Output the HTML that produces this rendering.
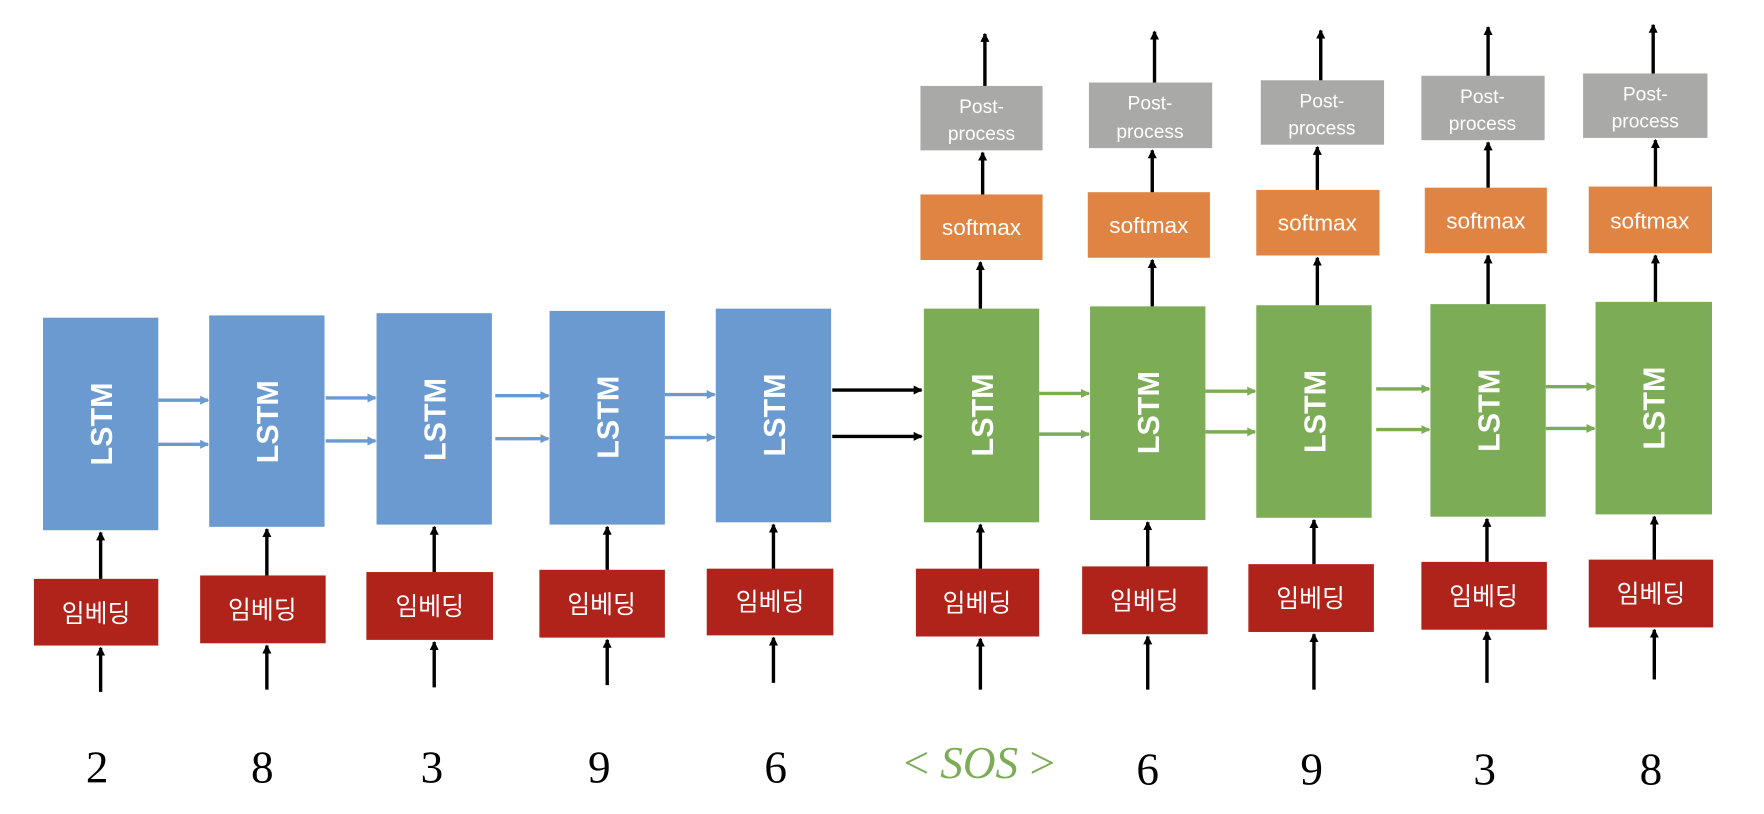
<!DOCTYPE html>
<html><head><meta charset="utf-8"><style>html,body{margin:0;padding:0;background:#fff}svg{display:block}</style></head><body>
<svg width="1764" height="814" viewBox="0 0 1560 720" preserveAspectRatio="none" xmlns="http://www.w3.org/2000/svg">
<defs>
<marker id="k" markerWidth="8" markerHeight="8" refX="7" refY="4" orient="auto" markerUnits="userSpaceOnUse" viewBox="0 0 8 8"><path d="M0,0 L8,4 L0,8 z" fill="#000"/></marker>
<marker id="b" markerWidth="8" markerHeight="8" refX="7" refY="4" orient="auto" markerUnits="userSpaceOnUse" viewBox="0 0 8 8"><path d="M0,0 L8,4 L0,8 z" fill="#6a9ad0"/></marker>
<marker id="g" markerWidth="8" markerHeight="8" refX="7" refY="4" orient="auto" markerUnits="userSpaceOnUse" viewBox="0 0 8 8"><path d="M0,0 L8,4 L0,8 z" fill="#7dac57"/></marker>
</defs>
<g font-family="Liberation Sans, sans-serif">
<!-- blue LSTMs -->
<g fill="#6a9ad0">
<rect x="38" y="281" width="102" height="188"/>
<rect x="185" y="279" width="102" height="187"/>
<rect x="333" y="277" width="102" height="187"/>
<rect x="486" y="275" width="102" height="189"/>
<rect x="633" y="273" width="102" height="189"/>
</g>
<g fill="#7dac57">
<rect x="817" y="273" width="102" height="189"/>
<rect x="964" y="271" width="102" height="189"/>
<rect x="1111" y="270" width="102" height="188"/>
<rect x="1265" y="269" width="102" height="188"/>
<rect x="1411" y="267" width="103" height="188"/>
</g>
<g fill="#fff" font-weight="bold" font-size="27" text-anchor="middle">
<text transform="translate(99,375) rotate(-90)">LSTM</text>
<text transform="translate(246,373) rotate(-90)">LSTM</text>
<text transform="translate(394,371) rotate(-90)">LSTM</text>
<text transform="translate(547,369) rotate(-90)">LSTM</text>
<text transform="translate(694,367) rotate(-90)">LSTM</text>
<text transform="translate(878,367) rotate(-90)">LSTM</text>
<text transform="translate(1025,365) rotate(-90)">LSTM</text>
<text transform="translate(1172,364) rotate(-90)">LSTM</text>
<text transform="translate(1326,363) rotate(-90)">LSTM</text>
<text transform="translate(1472,361) rotate(-90)">LSTM</text>
</g>
<!-- embedding -->
<g fill="#b0231a">
<rect x="30" y="512" width="110" height="59"/>
<rect x="177" y="509" width="111" height="60"/>
<rect x="324" y="506" width="112" height="60"/>
<rect x="477" y="504" width="111" height="60"/>
<rect x="625" y="503" width="112" height="59"/>
<rect x="810" y="503" width="109" height="60"/>
<rect x="957" y="501" width="111" height="60"/>
<rect x="1104" y="499" width="111" height="60"/>
<rect x="1257" y="497" width="111" height="60"/>
<rect x="1405" y="495" width="110" height="60"/>
</g>
<g fill="#fff" font-family="Noto Sans CJK KR, NanumGothic, sans-serif" font-size="22" text-anchor="middle">
<text x="85" y="550">임베딩</text>
<text x="232" y="547">임베딩</text>
<text x="380" y="544">임베딩</text>
<text x="532" y="542">임베딩</text>
<text x="681" y="540">임베딩</text>
<text x="864" y="541">임베딩</text>
<text x="1012" y="539">임베딩</text>
<text x="1159" y="537">임베딩</text>
<text x="1312" y="535">임베딩</text>
<text x="1460" y="533">임베딩</text>
</g>
<!-- softmax -->
<g fill="#e08444">
<rect x="814" y="172" width="108" height="58"/>
<rect x="962" y="170" width="108" height="58"/>
<rect x="1111" y="168" width="109" height="58"/>
<rect x="1260" y="166" width="108" height="58"/>
<rect x="1405" y="165" width="109" height="59"/>
</g>
<g fill="#fff" font-size="20" text-anchor="middle">
<text x="868" y="208">softmax</text>
<text x="1016" y="206">softmax</text>
<text x="1165" y="204">softmax</text>
<text x="1314" y="202">softmax</text>
<text x="1459" y="202">softmax</text>
</g>
<!-- post-process -->
<g fill="#a9a9a7">
<rect x="814" y="76" width="108" height="57"/>
<rect x="963" y="73" width="109" height="58"/>
<rect x="1115" y="71" width="109" height="57"/>
<rect x="1257" y="67" width="109" height="57"/>
<rect x="1400" y="65" width="110" height="57"/>
</g>
<g fill="#fff" font-size="17" text-anchor="middle">
<text x="868" y="100">Post-</text><text x="868" y="124">process</text>
<text x="1017" y="97">Post-</text><text x="1017" y="122">process</text>
<text x="1169" y="95">Post-</text><text x="1169" y="119">process</text>
<text x="1311" y="91">Post-</text><text x="1311" y="115">process</text>
<text x="1455" y="89">Post-</text><text x="1455" y="113">process</text>
</g>
<!-- vertical arrows -->
<g stroke="#000" stroke-width="3" marker-end="url(#k)">
<line x1="89" y1="612" x2="89" y2="573"/><line x1="89" y1="512" x2="89" y2="471"/>
<line x1="236" y1="610" x2="236" y2="571"/><line x1="236" y1="509" x2="236" y2="468"/>
<line x1="384" y1="608" x2="384" y2="568"/><line x1="384" y1="506" x2="384" y2="466"/>
<line x1="537" y1="606" x2="537" y2="566"/><line x1="537" y1="504" x2="537" y2="466"/>
<line x1="684" y1="604" x2="684" y2="564"/><line x1="684" y1="503" x2="684" y2="464"/>
<line x1="867" y1="610" x2="867" y2="565"/><line x1="867" y1="503" x2="867" y2="464"/>
<line x1="867" y1="273" x2="867" y2="232"/><line x1="869" y1="172" x2="869" y2="135"/><line x1="871" y1="76" x2="871" y2="30"/>
<line x1="1015" y1="610" x2="1015" y2="563"/><line x1="1015" y1="501" x2="1015" y2="462"/>
<line x1="1019" y1="271" x2="1019" y2="230"/><line x1="1019" y1="170" x2="1019" y2="133"/><line x1="1021" y1="73" x2="1021" y2="28"/>
<line x1="1162" y1="610" x2="1162" y2="561"/><line x1="1162" y1="499" x2="1162" y2="460"/>
<line x1="1165" y1="270" x2="1165" y2="228"/><line x1="1165" y1="168" x2="1165" y2="130"/><line x1="1168" y1="71" x2="1168" y2="27"/>
<line x1="1315" y1="604" x2="1315" y2="559"/><line x1="1315" y1="497" x2="1315" y2="459"/>
<line x1="1316" y1="269" x2="1316" y2="226"/><line x1="1316" y1="166" x2="1316" y2="126"/><line x1="1316" y1="67" x2="1316" y2="24"/>
<line x1="1463" y1="601" x2="1463" y2="557"/><line x1="1463" y1="495" x2="1463" y2="457"/>
<line x1="1464" y1="267" x2="1464" y2="226"/><line x1="1464" y1="165" x2="1464" y2="124"/><line x1="1462" y1="65" x2="1462" y2="22"/>
</g>
<!-- horizontal arrows -->
<g stroke="#6a9ad0" stroke-width="3" marker-end="url(#b)">
<line x1="140" y1="354" x2="184" y2="354"/><line x1="140" y1="393" x2="184" y2="393"/>
<line x1="288" y1="352" x2="332" y2="352"/><line x1="288" y1="390" x2="332" y2="390"/>
<line x1="438" y1="350" x2="485" y2="350"/><line x1="438" y1="388" x2="485" y2="388"/>
<line x1="588" y1="349" x2="632" y2="349"/><line x1="588" y1="387" x2="632" y2="387"/>
</g>
<g stroke="#000" stroke-width="3" marker-end="url(#k)">
<line x1="736" y1="345" x2="815" y2="345"/><line x1="736" y1="386" x2="815" y2="386"/>
</g>
<g stroke="#7dac57" stroke-width="3" marker-end="url(#g)">
<line x1="919" y1="348" x2="963" y2="348"/><line x1="919" y1="384" x2="963" y2="384"/>
<line x1="1066" y1="346" x2="1110" y2="346"/><line x1="1066" y1="382" x2="1110" y2="382"/>
<line x1="1217" y1="344" x2="1264" y2="344"/><line x1="1217" y1="380" x2="1264" y2="380"/>
<line x1="1367" y1="342" x2="1410" y2="342"/><line x1="1367" y1="379" x2="1410" y2="379"/>
</g>
<!-- numbers -->
<g font-family="Liberation Serif, serif" font-size="40" text-anchor="middle" fill="#000">
<text x="86" y="692">2</text>
<text x="232" y="692">8</text>
<text x="382" y="692">3</text>
<text x="530" y="692">9</text>
<text x="686" y="692">6</text>
<text x="1015" y="694">6</text>
<text x="1160" y="694">9</text>
<text x="1313" y="694">3</text>
<text x="1460" y="694">8</text>
</g>
<text x="866" y="688" text-anchor="middle" font-family="Liberation Serif, serif" font-size="40" fill="#7dac57">&lt; <tspan font-style="italic">SOS</tspan> &gt;</text>
</g>
</svg>
</body></html>
